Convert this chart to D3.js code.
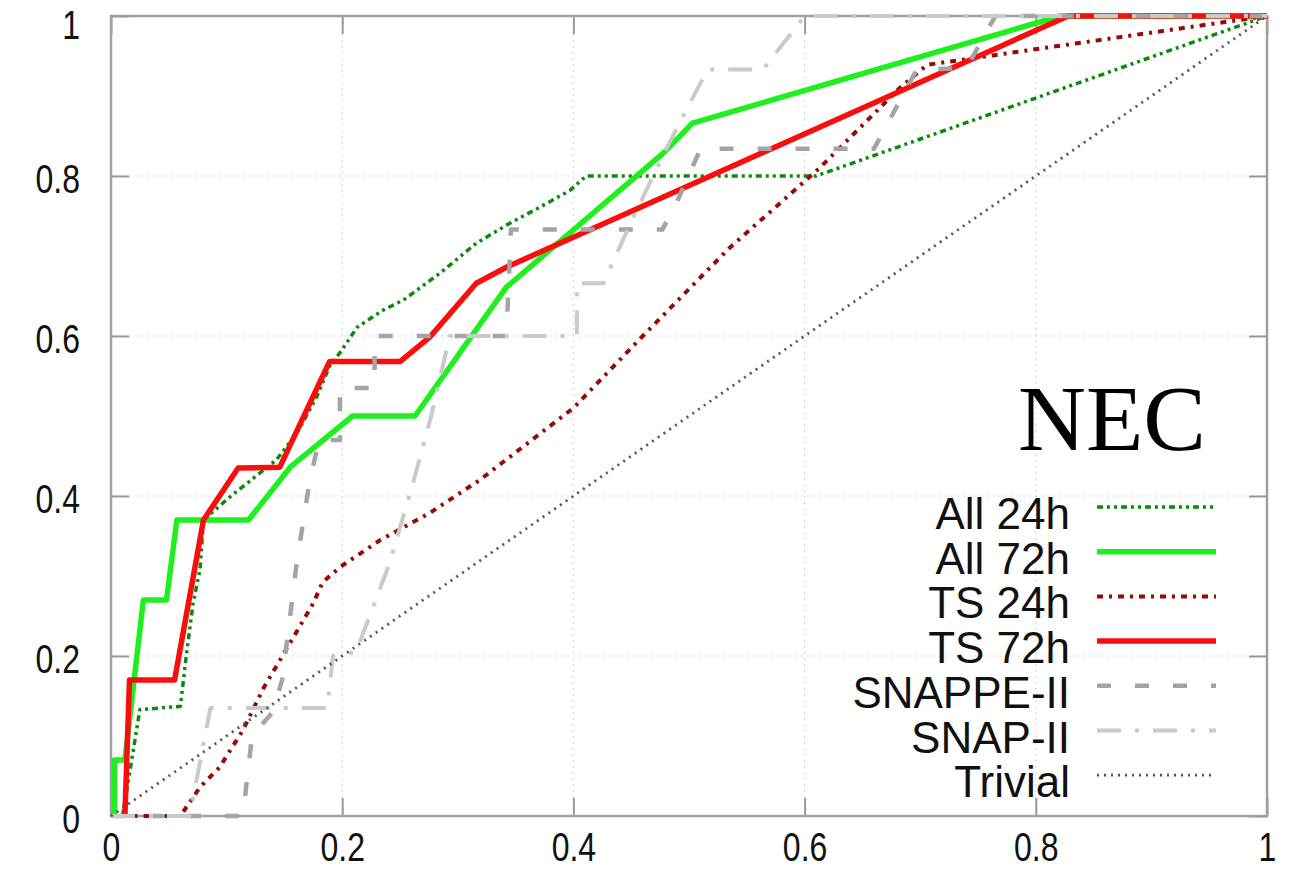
<!DOCTYPE html>
<html>
<head>
<meta charset="utf-8">
<script src="https://cdn.jsdelivr.net/npm/d3@7"></script>
<style>
  html, body { margin: 0; padding: 0; background: #fff; }
  svg { display: block; }
  .tick text { font-family: "Liberation Sans", Arial, sans-serif; font-size: 40px; fill: #111; }
  .legend text { font-family: "Liberation Sans", Arial, sans-serif; font-size: 44px; fill: #111; }
</style>
</head>
<body>
<svg width="1297" height="896"></svg>
<script>
// tick values
var xTicks = [0, 0.2, 0.4, 0.6, 0.8, 1],
    yTicks = [0, 0.2, 0.4, 0.6, 0.8, 1];

// series values, [x, y]
var all24h = [[0.01,0],[0.025,0.133],[0.06,0.137],[0.065,0.199],[0.071,0.266],[0.077,0.308],[0.08,0.37],
  [0.103,0.399],[0.143,0.445],[0.161,0.479],[0.178,0.524],[0.189,0.562],[0.198,0.579],[0.213,0.611],
  [0.235,0.632],[0.253,0.645],[0.285,0.679],[0.316,0.716],[0.345,0.741],[0.371,0.761],[0.397,0.782],
  [0.411,0.8],[0.61,0.8],[1,1]];
var all72h = [[0.003,0],[0.003,0.07],[0.012,0.07],[0.028,0.27],[0.048,0.27],[0.057,0.37],[0.119,0.37],
  [0.155,0.436],[0.209,0.5],[0.263,0.5],[0.342,0.661],[0.478,0.829],[0.503,0.866],[0.821,1],[1,1]];
var ts24h = [[0.01,0],[0.06,0],[0.077,0.036],[0.094,0.061],[0.114,0.107],[0.132,0.16],[0.158,0.224],
  [0.175,0.266],[0.183,0.292],[0.198,0.311],[0.233,0.345],[0.276,0.379],[0.319,0.42],[0.4,0.51],
  [0.46,0.6],[0.535,0.71],[0.613,0.81],[0.683,0.911],[0.706,0.939],[1,1]];
var ts72h = [[0.012,0],[0.016,0.17],[0.055,0.17],[0.08,0.37],[0.11,0.435],[0.146,0.436],[0.189,0.568],
  [0.25,0.568],[0.276,0.599],[0.316,0.666],[0.342,0.686],[0.828,1],[1,1]];
var snappe2 = [[0,0],[0.114,0],[0.122,0.1],[0.14,0.13],[0.148,0.17],[0.161,0.32],[0.172,0.42],[0.18,0.47],
  [0.198,0.47],[0.198,0.535],[0.228,0.535],[0.228,0.6],[0.342,0.6],[0.346,0.733],[0.477,0.733],
  [0.489,0.766],[0.51,0.834],[0.66,0.834],[0.697,0.933],[0.74,0.935],[0.765,1],[1,1]];
var snap2 = [[0,0],[0.068,0],[0.086,0.135],[0.187,0.135],[0.192,0.2],[0.212,0.205],[0.241,0.316],
  [0.262,0.42],[0.277,0.5],[0.293,0.6],[0.403,0.6],[0.403,0.666],[0.426,0.666],[0.452,0.749],
  [0.481,0.836],[0.516,0.933],[0.564,0.933],[0.6,1],[1,1]];
var trivial = [[0,0],[1,1]];

var labels = ["All 24h", "All 72h", "TS 24h", "TS 72h", "SNAPPE-II", "SNAP-II", "Trivial"];
var series = [all24h, all72h, ts24h, ts72h, snappe2, snap2, trivial];
var styles = [
  { color: "#0b8a0b", width: 3.5, dash: "6,4,3,4,3,4" },
  { color: "#1ef01e", width: 5.5, dash: null },
  { color: "#980a0a", width: 4, dash: "6,6,3,6" },
  { color: "#fa0d0d", width: 5.5, dash: null },
  { color: "#a4a4a4", width: 4.5, dash: "14,24" },
  { color: "#cacaca", width: 4, dash: "24,14,4,14" },
  { color: "#555555", width: 2.8, dash: "2,5" }
];

var svg = d3.select("svg");

var x = d3.scaleLinear().domain([0, 1]).range([111, 1267]),
    y = d3.scaleLinear().domain([0, 1]).range([816, 16]);

// grid
var grid = svg.append("g").attr("class", "grid");
grid.selectAll("line.v").data(xTicks.slice(1, -1)).enter().append("line")
    .attr("x1", function (d) { return x(d); }).attr("x2", function (d) { return x(d); })
    .attr("y1", y(0)).attr("y2", y(1))
    .attr("stroke", "#d8d8d8").attr("stroke-width", 1.2).attr("stroke-dasharray", "2,4");
grid.selectAll("line.h").data(yTicks.slice(1, -1)).enter().append("line")
    .attr("y1", function (d) { return y(d); }).attr("y2", function (d) { return y(d); })
    .attr("x1", x(0)).attr("x2", x(1))
    .attr("stroke", "#d8d8d8").attr("stroke-width", 1.2).attr("stroke-dasharray", "2,4");

// axes (tick labels are squeezed horizontally like the original)
var fmt = d3.format("~g"), squeeze = 0.8;
var gx = svg.append("g").attr("transform", "translate(0," + y(0) + ")")
    .call(d3.axisBottom(x).tickValues(xTicks).tickFormat(fmt).tickSize(-18).tickPadding(17));
gx.selectAll(".tick text").attr("transform", "scale(" + squeeze + ",1)");
var gy = svg.append("g").attr("transform", "translate(" + x(0) + ",0)")
    .call(d3.axisLeft(y).tickValues(yTicks).tickFormat(fmt).tickSize(-18).tickPadding(31));
gy.selectAll(".tick text")
    .attr("x", -31 / squeeze)
    .attr("transform", "scale(" + squeeze + ",1)")
    .attr("dy", function (d) { return d === 1 ? "0.55em" : "0.4em"; });
var gt = svg.append("g").attr("transform", "translate(0," + y(1) + ")")
    .call(d3.axisTop(x).tickValues(xTicks).tickFormat("").tickSize(-18));
var gr = svg.append("g").attr("transform", "translate(" + x(1) + ",0)")
    .call(d3.axisRight(y).tickValues(yTicks).tickFormat("").tickSize(-18));
[gx, gy, gt, gr].forEach(function (g) {
  g.select(".domain").remove();
  g.selectAll(".tick line").attr("stroke", "#999").attr("stroke-width", 2);
});

// frame
svg.append("rect")
    .attr("x", x(0)).attr("y", y(1))
    .attr("width", x(1) - x(0)).attr("height", y(0) - y(1))
    .attr("fill", "none").attr("stroke", "#a0a0a0").attr("stroke-width", 2.5);

// curves
var line = d3.line().x(function (d) { return x(d[0]); }).y(function (d) { return y(d[1]); });
svg.append("g").selectAll("path").data(series).enter().append("path")
    .attr("d", line)
    .attr("fill", "none")
    .attr("stroke", function (d, i) { return styles[i].color; })
    .attr("stroke-width", function (d, i) { return styles[i].width; })
    .attr("stroke-dasharray", function (d, i) { return styles[i].dash; })
    .attr("stroke-linejoin", "round");

// title
svg.append("text")
    .attr("x", 1206).attr("y", 450)
    .attr("text-anchor", "end")
    .style("font-family", "'Liberation Serif', 'Times New Roman', serif")
    .style("font-size", "94px")
    .text("NEC");

// legend
var legend = svg.append("g").attr("class", "legend");
var row = legend.selectAll("g").data(labels).enter().append("g")
    .attr("transform", function (d, i) { return "translate(0," + (529 + i * 44.7) + ")"; });
row.append("text")
    .attr("x", 1070)
    .attr("text-anchor", "end")
    .text(function (d) { return d; });
row.append("line")
    .attr("x1", 1097).attr("x2", 1216)
    .attr("y1", -22).attr("y2", -22)
    .attr("stroke", function (d, i) { return styles[i].color; })
    .attr("stroke-width", function (d, i) { return styles[i].width; })
    .attr("stroke-dasharray", function (d, i) { return styles[i].dash; });
</script>
</body>
</html>
